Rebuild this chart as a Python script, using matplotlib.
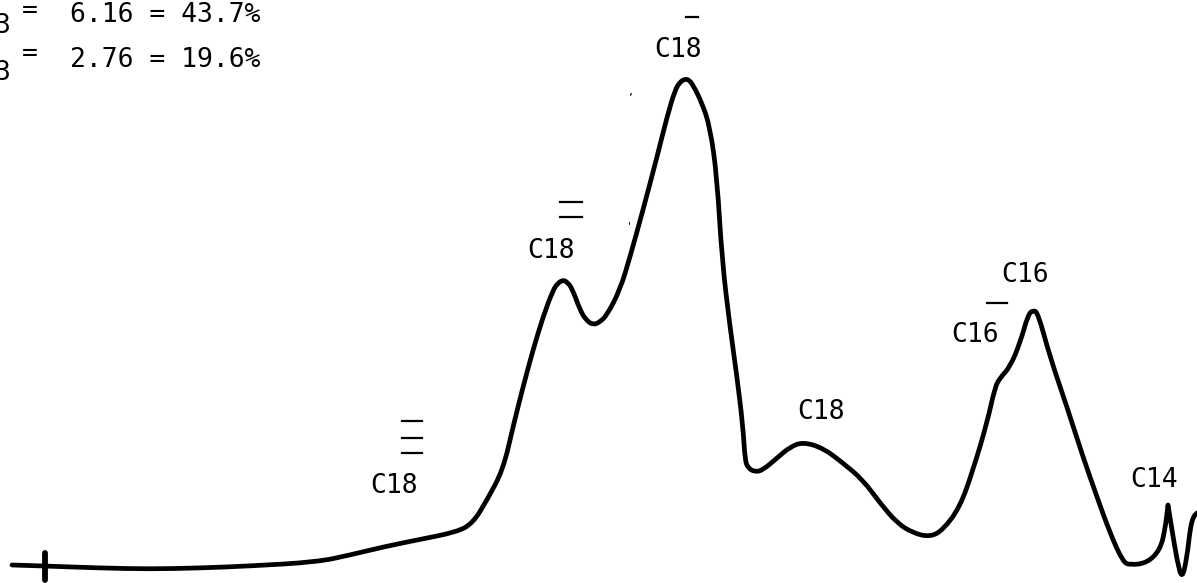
import matplotlib
matplotlib.use("Agg")
import matplotlib.pyplot as plt
from matplotlib.path import Path
from matplotlib.patches import PathPatch

# Trace of the recorder chart (pixel-space readings: x to the right, y downward)
trace_x = [12, 45, 100, 150, 200, 250, 317, 350, 383, 417, 457, 473, 487, 503, 513, 523, 533, 543,
           553, 558, 563, 567, 572, 580, 586, 593, 600, 607, 620, 630, 643, 657, 667, 675, 680, 685,
           689, 693, 702, 710, 717, 722, 730, 737, 743, 745, 748, 755, 763, 777, 790, 803, 823, 843,
           863, 880, 897, 913, 930, 943, 960, 973, 987, 995, 1000, 1010, 1020, 1028, 1033, 1038,
           1050, 1067, 1083, 1097, 1110, 1123, 1130, 1147, 1160, 1165, 1168, 1168, 1172, 1177,
           1182, 1187, 1190, 1193, 1197]
trace_y = [565, 566, 568, 569, 568, 566, 562, 555, 547, 540, 532, 523, 500, 470, 427, 387, 350, 317,
           290, 283, 280, 282, 288, 310, 320, 325, 322, 315, 290, 257, 210, 157, 117, 90, 82, 79,
           80, 85, 103, 127, 177, 260, 327, 377, 427, 460, 468, 472, 470, 458, 447, 442, 448, 463,
           480, 503, 523, 533, 537, 530, 507, 470, 423, 387, 378, 367, 343, 315, 310, 313,
           357, 407, 457, 497, 533, 562, 565, 563, 550, 530, 505, 505, 530, 560,
           580, 557, 530, 517, 513]

# Peak labels: text, centre x, baseline y
peak_labels = ["C18", "C18", "C18", "C18", "C16", "C16", "C14"]
peak_label_x = [678, 551, 394, 821, 1025, 975, 1154]
peak_label_y = [57, 258, 493, 419, 282, 342, 487]

# Over-bars (number of double bonds) : x start, x end, y list
bar_x0 = [686, 560, 402, 987]
bar_x1 = [698, 582, 422, 1007]
bar_y = [[17], [202, 217], [421, 438, 453], [303]]

# Header text
header_values = ["6.16 = 43.7%", "2.76 = 19.6%"]
header_y = [22, 67]
header_eq_y = [11, 54]
header_three_y = [33, 80]

W, H = 1197, 583
fig = plt.figure(figsize=(W / 100, H / 100), dpi=100)
ax = fig.add_axes([0, 0, 1, 1])
ax.set_xlim(0, W)
ax.set_ylim(H, 0)
ax.axis("off")

# smooth pen trace: quadratic curves through midpoints, data points as controls
pts = list(zip(trace_x, trace_y))
verts = [pts[0]]
codes = [Path.MOVETO]
for i in range(1, len(pts) - 1):
    mid = ((pts[i][0] + pts[i + 1][0]) / 2, (pts[i][1] + pts[i + 1][1]) / 2)
    verts += [pts[i], mid]
    codes += [Path.CURVE3, Path.CURVE3]
verts.append(pts[-1])
codes.append(Path.LINETO)
ax.add_patch(PathPatch(Path(verts, codes), facecolor="none", edgecolor="black",
                       lw=3.4, joinstyle="round", capstyle="round"))

# injection tick
ax.plot([45, 45], [553, 580], color="black", lw=4.2, solid_capstyle="round")

font = dict(family="DejaVu Sans Mono", fontsize=19, color="black")
for t, x, y in zip(peak_labels, peak_label_x, peak_label_y):
    ax.text(x, y, t, ha="center", va="baseline", **font)

for x0, x1, ys in zip(bar_x0, bar_x1, bar_y):
    for y in ys:
        ax.plot([x0, x1], [y, y], color="black", lw=1.6)

for t, y, ye, y3 in zip(header_values, header_y, header_eq_y, header_three_y):
    ax.text(70, y, t, ha="left", va="baseline", **font)
    ax.text(30, ye, "=", ha="center", va="center", **font)
    ax.text(-6, y3, "3", ha="left", va="baseline", **font)

# small specks on the scan
ax.text(631, 92, ",", ha="center", va="center", fontsize=9, color="black")
ax.text(629, 226, "'", ha="center", va="center", fontsize=8, color="black")

fig.savefig("out.png", dpi=100)
